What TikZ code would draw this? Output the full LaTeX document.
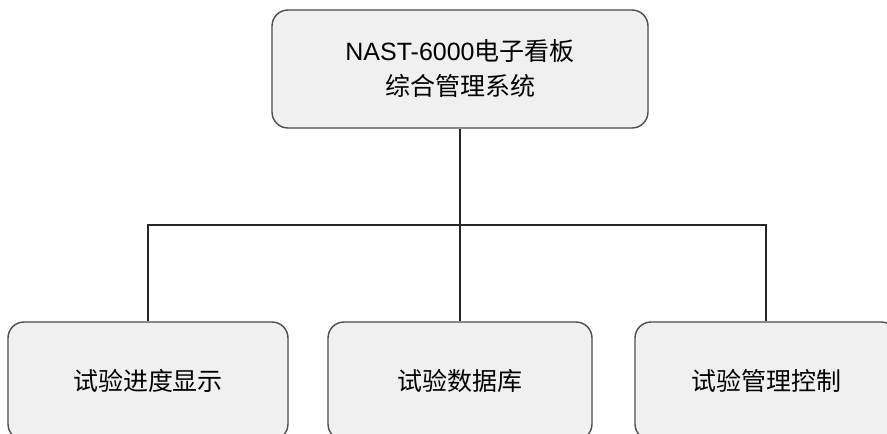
\documentclass[tikz,border=0pt]{standalone}
\usepackage{fontspec}
\setmainfont{Liberation Sans}
\newfontfamily\cjk{Noto Sans CJK SC}
\usepackage{tikz}

\begin{document}
\begin{tikzpicture}[x=1pt, y=-1pt,
    box/.style = {draw=black!70, fill=black!6, line width=1.4pt, rounded corners=16pt, font=\fontsize{25}{35}\selectfont, align=center, inner sep=0pt},
    link/.style = {line width=1.4pt, black!85}]
    \clip (0,0) rectangle (887,434);
        \node[box, minimum width=376pt, minimum height=118pt] (sys) at (460,69) {NAST-6000{\cjk 电子看板}\\{\cjk 综合管理系统}};
        \node[box, minimum width=280pt, minimum height=118pt] (disp) at (148,381) {\cjk 试验进度显示};
        \node[box, minimum width=264pt, minimum height=118pt] (db) at (460,381) {\cjk 试验数据库};
        \node[box, minimum width=262pt, minimum height=118pt] (ctrl) at (766,381) {\cjk 试验管理控制};
        \coordinate (bus) at (460,225);
        \draw[link] (sys) -- (bus);
        \draw[link] (bus) -| (disp);
        \draw[link] (bus) -- (db);
        \draw[link] (bus) -| (ctrl);
    \end{tikzpicture}
\end{document}
